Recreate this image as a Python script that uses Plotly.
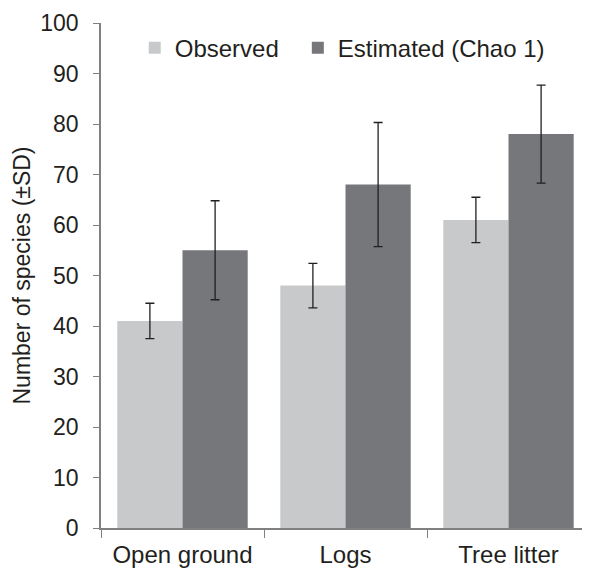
import plotly.graph_objects as go

categories = ["Open ground", "Logs", "Tree litter"]
observed = [41, 48, 61]
observed_sd = [3.5, 4.4, 4.5]
estimated = [55, 68, 78]
estimated_sd = [9.8, 12.3, 9.7]
y_ticks = [0, 10, 20, 30, 40, 50, 60, 70, 80, 90, 100]

font_family = "Liberation Sans, Arial, sans-serif"
text_color = "#231f20"

fig = go.Figure()
fig.add_trace(go.Bar(
    name="Observed", x=categories, y=observed, legend="legend",
    marker=dict(color="#c8c9cb", line=dict(width=0)),
    error_y=dict(type="data", array=observed_sd, visible=True,
                 color="#231f20", thickness=1.3, width=4.5),
))
fig.add_trace(go.Bar(
    name="Estimated (Chao 1)", x=categories, y=estimated, legend="legend2",
    marker=dict(color="#76777b", line=dict(width=0)),
    error_y=dict(type="data", array=estimated_sd, visible=True,
                 color="#231f20", thickness=1.3, width=4.5),
))

legend_style = dict(orientation="h", y=0.95, xanchor="left", yanchor="middle",
                    font=dict(size=24, color=text_color), bgcolor="rgba(0,0,0,0)",
                    itemwidth=30, tracegroupgap=0, itemsizing="constant")

# The page body adds an 8px margin, so the figure is sized to fill the rest of the window.
fig.update_layout(
    width=582, height=561,
    margin=dict(l=93, r=0, t=15, b=41, autoexpand=False),
    paper_bgcolor="white", plot_bgcolor="white",
    barmode="group", bargap=0.2, bargroupgap=0,
    font=dict(family=font_family, size=23, color=text_color),
    showlegend=True,
    legend=dict(x=0.069, **legend_style),
    legend2=dict(x=0.4025, **legend_style),
    xaxis=dict(
        range=[-0.5, 2.5], showline=True, linecolor="#808080", linewidth=1.5,
        ticks="outside", tickson="boundaries", ticklen=8, tickcolor="#808080",
        tickwidth=1.3, showgrid=False, zeroline=False, automargin=False,
        ticklabelstandoff=4,
        tickfont=dict(size=24, color=text_color),
    ),
    yaxis=dict(
        range=[0, 100], tickvals=y_ticks, showline=True, linecolor="#808080",
        linewidth=1.5, ticks="outside", ticklen=6, tickcolor="#808080", tickwidth=1.3,
        showgrid=False, zeroline=False, ticklabelstandoff=10, automargin=False,
        tickfont=dict(size=23, color=text_color),
        title=dict(text="Number of species (±SD)", font=dict(size=23, color=text_color), standoff=3),
    ),
)

fig.write_html("out.html")
